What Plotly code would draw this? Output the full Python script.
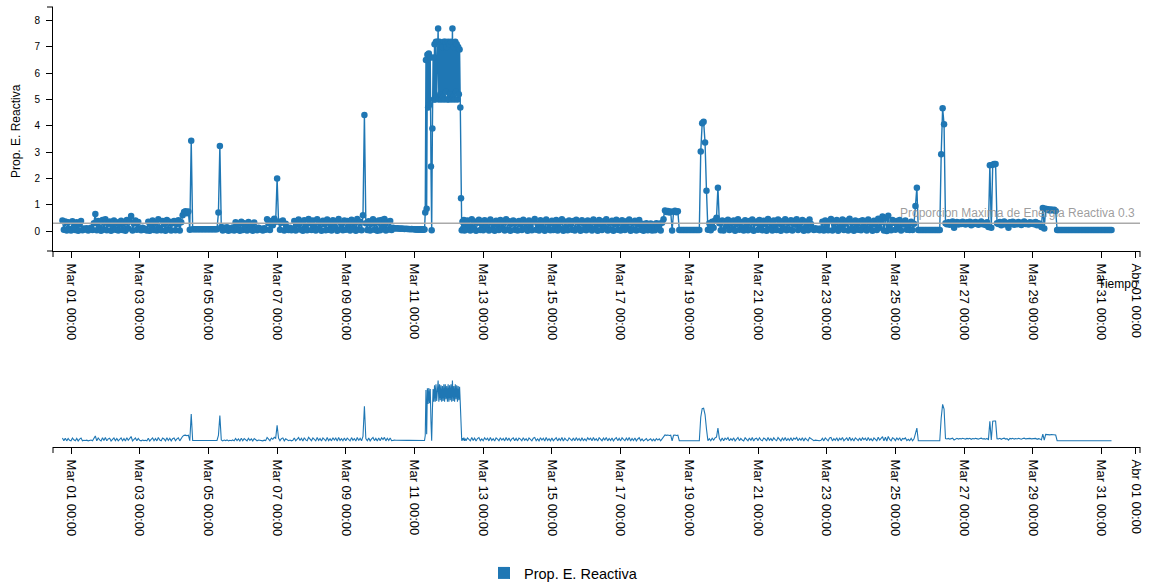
import pandas as pd
import plotly.graph_objects as go

# ---- data: readings of the reactive-energy ratio (mostly hourly) ----
feb28 = [0.40, 0.05, 0.36, 0.02, 0.33, 0.08]
mar01 = [0.02, 0.37, 0.15, 0.04, 0.33, 0.01, 0.25, 0.38, 0.03, 0.10, 0.06, 0.11,
         0.02, 0.09, 0.12, 0.04, 0.30, 0.65, 0.03, 0.38, 0.14, 0.01, 0.42, 0.06]
mar02 = [0.45, 0.03, 0.28, 0.36, 0.01, 0.18, 0.40, 0.05, 0.33, 0.02, 0.24, 0.39,
         0.04, 0.31, 0.01, 0.42, 0.10, 0.36, 0.57, 0.02, 0.29, 0.40, 0.05, 0.34]
mar03 = [0.10, 0.03, 0.12, 0.05, 0.09, 0.02, 0.35, 0.01, 0.22, 0.40, 0.04, 0.31,
         0.02, 0.45, 0.12, 0.03, 0.38, 0.26, 0.01, 0.42, 0.07, 0.35, 0.02, 0.30]
mar04 = [0.38, 0.03, 0.27, 0.41, 0.02, 0.33, 0.60, 0.72, 0.75, 0.68, 0.74, 0.05,
         3.43, 0.07, 0.07, 0.07, 0.07, 0.07, 0.07, 0.07, 0.07, 0.07, 0.07, 0.07]
mar05 = [0.07, 0.07, 0.07, 0.07, 0.07, 0.07, 0.07, 0.70, 3.23, 0.15, 0.02, 0.12,
         0.05, 0.14, 0.01, 0.10, 0.04, 0.13, 0.02, 0.33, 0.05, 0.28, 0.01, 0.35]
mar06 = [0.04, 0.30, 0.18, 0.02, 0.34, 0.07, 0.27, 0.01, 0.32, 0.10, 0.03, 0.12,
         0.06, 0.09, 0.02, 0.11, 0.05, 0.45, 0.30, 0.04, 0.38, 0.22, 0.47, 0.35]
mar07 = [2.00, 0.36, 0.05, 0.31, 0.40, 0.02, 0.28, 0.10, 0.04, 0.12, 0.03, 0.09,
         0.38, 0.02, 0.25, 0.44, 0.06, 0.35, 0.01, 0.41, 0.15, 0.03, 0.46, 0.30]
mar08 = [0.04, 0.40, 0.21, 0.02, 0.45, 0.08, 0.33, 0.01, 0.39, 0.26, 0.03, 0.44,
         0.05, 0.30, 0.02, 0.41, 0.13, 0.37, 0.01, 0.46, 0.07, 0.29, 0.03, 0.40]
mar09 = [0.05, 0.38, 0.24, 0.02, 0.43, 0.10, 0.31, 0.01, 0.46, 0.06, 0.35, 0.03,
         0.60, 4.41, 0.30, 0.04, 0.37, 0.02, 0.28, 0.45, 0.05, 0.33, 0.01, 0.40]
mar10 = [0.03, 0.42, 0.18, 0.46, 0.02, 0.35, 0.06, 0.38, 0.04, 0.12, 0.11, 0.10,
         0.11, 0.10, 0.09, 0.10, 0.09, 0.08, 0.09, 0.08, 0.08, 0.07, 0.08, 0.07]
# half-hourly around the high episode
mar11 = [0.07, 0.07, 0.07, 0.06, 0.07, 0.06, 0.07, 0.06, 0.06, 0.07, 0.06, 0.06,
         0.06, 0.06, 0.06, 0.70, 6.50, 0.85, 6.70, 4.70, 6.75, 4.80, 6.60, 2.45,
         0.03, 3.90, 6.60, 5.00, 7.10, 5.00, 7.20, 5.10, 7.20, 7.70, 5.00, 7.20,
         5.20, 7.10, 5.00, 7.00, 5.10, 7.20, 5.00, 7.20, 5.30, 7.00, 5.00, 7.20]
mar12a = [5.00, 7.10, 5.20, 7.20, 5.00, 7.70, 5.10, 7.00, 5.00, 7.20, 5.30, 7.10,
          5.00, 7.00, 5.20, 6.90, 4.70, 1.25, 0.03, 0.35, 0.10, 0.42, 0.02, 0.30]
mar12b = [0.05, 0.40, 0.22, 0.02, 0.45, 0.08, 0.36, 0.01, 0.31, 0.43, 0.04, 0.27]
mar13 = [0.03, 0.41, 0.16, 0.35, 0.02, 0.44, 0.07, 0.29, 0.01, 0.39, 0.23, 0.04,
         0.42, 0.11, 0.33, 0.02, 0.45, 0.06, 0.37, 0.01, 0.28, 0.40, 0.05, 0.34]
mar14 = [0.02, 0.38, 0.25, 0.04, 0.43, 0.09, 0.31, 0.01, 0.40, 0.18, 0.03, 0.36,
         0.46, 0.05, 0.27, 0.02, 0.41, 0.12, 0.35, 0.01, 0.44, 0.07, 0.30, 0.03]
mar15 = [0.39, 0.04, 0.21, 0.42, 0.02, 0.33, 0.08, 0.45, 0.01, 0.36, 0.14, 0.03,
         0.40, 0.26, 0.05, 0.38, 0.02, 0.43, 0.10, 0.32, 0.01, 0.41, 0.06, 0.28]
mar16 = [0.03, 0.40, 0.17, 0.36, 0.02, 0.44, 0.09, 0.30, 0.01, 0.42, 0.24, 0.04,
         0.37, 0.12, 0.45, 0.02, 0.33, 0.06, 0.39, 0.01, 0.27, 0.43, 0.05, 0.35]
mar17 = [0.02, 0.41, 0.20, 0.04, 0.37, 0.11, 0.44, 0.01, 0.33, 0.06, 0.39, 0.02,
         0.26, 0.42, 0.05, 0.28, 0.01, 0.22, 0.30, 0.03, 0.18, 0.29, 0.02, 0.25]
mar18 = [0.03, 0.30, 0.12, 0.28, 0.02, 0.31, 0.45, 0.78, 0.72, 0.76, 0.70, 0.74,
         0.02, 0.73, 0.77, 0.71, 0.75, 0.04, 0.04, 0.04, 0.04, 0.04, 0.04, 0.04]
mar19 = [0.04, 0.04, 0.04, 0.04, 0.04, 0.04, 0.04, 0.04, 3.02, 4.10, 4.16, 3.37,
         1.53, 0.05, 0.30, 0.03, 0.35, 0.12, 0.40, 0.50, 1.65, 0.30, 0.03, 0.40]
mar20 = [0.02, 0.36, 0.19, 0.43, 0.04, 0.31, 0.08, 0.40, 0.01, 0.27, 0.45, 0.05,
         0.34, 0.13, 0.02, 0.41, 0.22, 0.03, 0.38, 0.07, 0.44, 0.01, 0.30, 0.36]
mar21 = [0.05, 0.42, 0.15, 0.03, 0.39, 0.26, 0.01, 0.46, 0.09, 0.33, 0.02, 0.40,
         0.18, 0.04, 0.44, 0.28, 0.01, 0.37, 0.11, 0.45, 0.03, 0.32, 0.06, 0.41]
mar22 = [0.02, 0.38, 0.24, 0.45, 0.04, 0.33, 0.10, 0.42, 0.01, 0.36, 0.19, 0.03,
         0.44, 0.27, 0.10, 0.04, 0.11, 0.06, 0.09, 0.03, 0.10, 0.35, 0.02, 0.40]
mar23 = [0.21, 0.03, 0.38, 0.46, 0.02, 0.30, 0.09, 0.42, 0.01, 0.35, 0.16, 0.44,
         0.04, 0.28, 0.39, 0.02, 0.47, 0.08, 0.33, 0.01, 0.40, 0.23, 0.05, 0.37]
mar24 = [0.03, 0.41, 0.18, 0.36, 0.02, 0.44, 0.10, 0.30, 0.01, 0.39, 0.25, 0.04,
         0.47, 0.12, 0.34, 0.55, 0.02, 0.48, 0.00, 0.58, 0.20, 0.03, 0.42, 0.31]
mar25 = [0.05, 0.38, 0.14, 0.42, 0.02, 0.33, 0.25, 0.40, 0.05, 0.22, 0.04, 0.35,
         0.04, 0.28, 0.95, 1.65, 0.04, 0.04, 0.04, 0.04, 0.04, 0.04, 0.04, 0.04]
mar26 = [0.04, 0.04, 0.04, 0.04, 0.04, 0.04, 0.04, 0.04, 2.92, 4.67, 4.06, 0.30,
         0.26, 0.33, 0.24, 0.31, 0.36, 0.12, 0.29, 0.34, 0.25, 0.32, 0.27, 0.35]
mar27 = [0.30, 0.25, 0.33, 0.28, 0.35, 0.22, 0.31, 0.27, 0.34, 0.29, 0.24, 0.32,
         0.36, 0.26, 0.30, 0.23, 0.33, 0.15, 2.50, 0.12, 2.52, 2.55, 2.55, 0.30]
mar28 = [0.27, 0.34, 0.22, 0.31, 0.36, 0.25, 0.30, 0.12, 0.33, 0.28, 0.35, 0.24,
         0.31, 0.26, 0.34, 0.29, 0.23, 0.32, 0.36, 0.27, 0.30, 0.25, 0.33, 0.28]
mar29 = [0.31, 0.26, 0.34, 0.22, 0.30, 0.27, 0.15, 0.88, 0.10, 0.85, 0.80, 0.83,
         0.78, 0.82, 0.79, 0.81, 0.76, 0.04, 0.04, 0.04, 0.04, 0.04, 0.04, 0.04]
mar30 = [0.04, 0.04, 0.04, 0.04, 0.04, 0.04, 0.04, 0.04, 0.04, 0.04, 0.04, 0.04,
         0.04, 0.04, 0.04, 0.04, 0.04, 0.04, 0.04, 0.04, 0.04, 0.04, 0.04, 0.04]
mar31 = [0.04, 0.04, 0.04, 0.04, 0.04, 0.04, 0.04, 0.04]

# (start time, step in hours, readings)
segments = [
    ("2019-02-28 18:00", 1, feb28), ("2019-03-01", 1, mar01), ("2019-03-02", 1, mar02),
    ("2019-03-03", 1, mar03), ("2019-03-04", 1, mar04), ("2019-03-05", 1, mar05),
    ("2019-03-06", 1, mar06), ("2019-03-07", 1, mar07), ("2019-03-08", 1, mar08),
    ("2019-03-09", 1, mar09), ("2019-03-10", 1, mar10), ("2019-03-11", 0.5, mar11),
    ("2019-03-12", 0.5, mar12a), ("2019-03-12 12:00", 1, mar12b),
    ("2019-03-13", 1, mar13), ("2019-03-14", 1, mar14), ("2019-03-15", 1, mar15),
    ("2019-03-16", 1, mar16), ("2019-03-17", 1, mar17), ("2019-03-18", 1, mar18),
    ("2019-03-19", 1, mar19), ("2019-03-20", 1, mar20), ("2019-03-21", 1, mar21),
    ("2019-03-22", 1, mar22), ("2019-03-23", 1, mar23), ("2019-03-24", 1, mar24),
    ("2019-03-25", 1, mar25), ("2019-03-26", 1, mar26), ("2019-03-27", 1, mar27),
    ("2019-03-28", 1, mar28), ("2019-03-29", 1, mar29), ("2019-03-30", 1, mar30),
    ("2019-03-31", 1, mar31),
]

tick_dates = ["2019-03-01", "2019-03-03", "2019-03-05", "2019-03-07", "2019-03-09",
              "2019-03-11", "2019-03-13", "2019-03-15", "2019-03-17", "2019-03-19",
              "2019-03-21", "2019-03-23", "2019-03-25", "2019-03-27", "2019-03-29",
              "2019-03-31", "2019-04-01"]
tick_labels = ["Mar 01 00:00", "Mar 03 00:00", "Mar 05 00:00", "Mar 07 00:00",
               "Mar 09 00:00", "Mar 11 00:00", "Mar 13 00:00", "Mar 15 00:00",
               "Mar 17 00:00", "Mar 19 00:00", "Mar 21 00:00", "Mar 23 00:00",
               "Mar 25 00:00", "Mar 27 00:00", "Mar 29 00:00", "Mar 31 00:00",
               "Abr 01 00:00"]
y_ticks = [0, 1, 2, 3, 4, 5, 6, 7, 8]
limit_value = 0.3
limit_label = "Proporcion Maxima de Energia Reactiva 0.3"
series_name = "Prop. E. Reactiva"

times, values = [], []
for start, step, arr in segments:
    t0 = pd.Timestamp(start)
    for i, v in enumerate(arr):
        times.append(t0 + pd.Timedelta(hours=step * i))
        values.append(v)

BLUE = "#1f77b4"
FONT = "Arial, 'Liberation Sans', sans-serif"
W, H = 1149, 584
L, R, T, B = 53, 9, 7, 137
PW, PH = W - L - R, H - T - B
main_bottom, sub_top = 251, 374
x_range = ["2019-02-28 11:25", "2019-04-01 02:54"]
y_range = [-0.76, 8.52]

fig = go.Figure()
fig.add_trace(go.Scatter(
    x=times, y=values, mode="lines+markers", name=series_name, showlegend=False,
    line=dict(color=BLUE, width=1.4), marker=dict(color=BLUE, size=6.5),
    xaxis="x", yaxis="y", hoverinfo="x+y"))
fig.add_trace(go.Scatter(
    x=times, y=values, mode="lines", showlegend=False,
    line=dict(color=BLUE, width=1.1), xaxis="x2", yaxis="y2", hoverinfo="skip"))
fig.add_trace(go.Scatter(
    x=[None], y=[None], mode="markers", name=series_name,
    marker=dict(color=BLUE, size=12, symbol="square"), xaxis="x", yaxis="y"))


def py(px):
    return (H - B - px) / PH


def pxx(px):
    return (px - L) / PW


def axis_style(size, standoff):
    return dict(showline=True, linecolor="black", linewidth=1, ticks="outside",
                ticklen=6, tickcolor="black", showgrid=False, zeroline=False,
                automargin=False, ticklabelstandoff=standoff,
                tickfont=dict(family=FONT, size=size, color="black"))


fig.update_layout(
    width=W, height=H, margin=dict(l=L, r=R, t=T, b=B, autoexpand=False),
    paper_bgcolor="white", plot_bgcolor="white", font=dict(family=FONT, color="black"),
    xaxis=dict(domain=[0, 1], anchor="y", range=x_range, tickmode="array",
               tickvals=tick_dates, ticktext=tick_labels, tickangle=90,
               **axis_style(13, 3)),
    yaxis=dict(domain=[py(main_bottom), 1], anchor="x", range=y_range, tickmode="array",
               tickvals=y_ticks, **axis_style(10, 4)),
    xaxis2=dict(domain=[0, 1], anchor="y2", range=x_range, tickmode="array",
                tickvals=tick_dates, ticktext=tick_labels, tickangle=90,
                **axis_style(13, 3)),
    yaxis2=dict(domain=[0, py(sub_top)], anchor="x2", range=y_range, visible=False),
    legend=dict(orientation="h", x=pxx(484), xanchor="left", y=py(573), yanchor="middle",
                font=dict(family=FONT, size=14.5, color="black"), bgcolor="rgba(0,0,0,0)"),
    showlegend=True,
)

# limit line and its label
fig.add_shape(type="line", xref="x domain", yref="y", x0=0, x1=1, y0=limit_value,
              y1=limit_value, line=dict(color="#aaaaaa", width=1.5), layer="above")
fig.add_annotation(xref="paper", yref="paper", x=pxx(1137), y=py(213), xanchor="right",
                   yanchor="middle", text=limit_label, showarrow=False,
                   font=dict(family=FONT, size=12, color="rgba(140,140,140,0.85)"))

# axis titles
fig.add_annotation(xref="paper", yref="paper", x=pxx(16), y=py(131), textangle=-90,
                   text=series_name, showarrow=False, xanchor="center", yanchor="middle",
                   font=dict(family=FONT, size=12, color="black"))
fig.add_annotation(xref="paper", yref="paper", x=1, y=py(284), xanchor="right",
                   yanchor="middle", text="Tiempo", showarrow=False,
                   font=dict(family=FONT, size=12, color="black"))

# outer ticks at the ends of the axis lines (d3 style)
end_ticks = [
    (pxx(47), py(7), pxx(53), py(7)), (pxx(47), py(251), pxx(53), py(251)),
    (pxx(53), py(251), pxx(53), py(257)), (pxx(1140), py(251), pxx(1140), py(257)),
    (pxx(53), py(447), pxx(53), py(453)), (pxx(1140), py(447), pxx(1140), py(453)),
]
for x0, y0, x1, y1 in end_ticks:
    fig.add_shape(type="line", xref="paper", yref="paper", x0=x0, y0=y0, x1=x1, y1=y1,
                  line=dict(color="black", width=1))

# remove the browser's default page margin so the figure sits at the top-left corner
fig.write_html("out.html", config={"displayModeBar": False},
               post_script="document.body.style.margin='0';document.body.style.overflow='hidden';")
